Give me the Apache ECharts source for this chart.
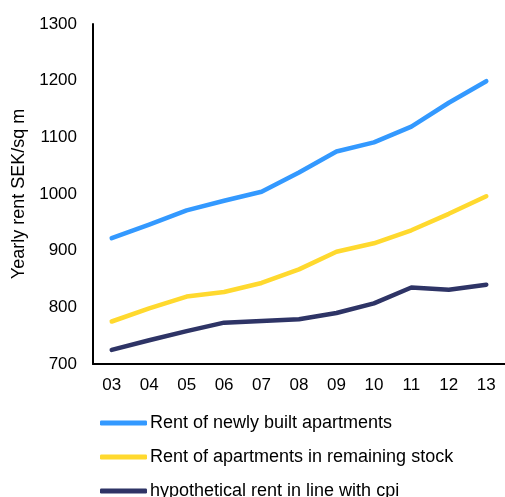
<!DOCTYPE html>
<html>
<head>
<meta charset="utf-8">
<script src="https://cdn.jsdelivr.net/npm/echarts@6/dist/echarts.min.js"></script>
<style>
	html, body { margin: 0; padding: 0; background: #fff; }
	#chart { width: 505px; height: 497px; }
</style>
</head>
<body>
<div id="chart"></div>
<script>
var years = ['03', '04', '05', '06', '07', '08', '09', '10', '11', '12', '13'];
var newlyBuilt = [922, 946, 971, 988, 1004, 1038, 1075, 1091, 1119, 1161, 1199];
var remainingStock = [775, 798, 819, 827, 843, 867, 898, 913, 936, 965, 996];
var cpiRent = [725, 742, 758, 773, 776, 779, 790, 807, 835, 831, 840];
var yTicks = { min: 700, max: 1300, step: 100 };

var font = 'Liberation Sans, Arial, sans-serif';

var chart = echarts.init(document.getElementById('chart'));

function lineSeries(name, data, color) {
	return {
		name: name,
		type: 'line',
		data: data,
		symbol: 'none',
		smooth: false,
		lineStyle: { color: color, width: 4.5, cap: 'round', join: 'round' },
		itemStyle: { color: color }
	};
}

chart.setOption({
	animation: false,
	backgroundColor: '#fff',
	grid: { left: 93, width: 416, top: 24, bottom: 133, containLabel: false },
	legend: {
		orient: 'vertical',
		left: 95,
		top: 409,
		height: 300,
		icon: 'roundRect',
		itemWidth: 47,
		itemHeight: 5,
		itemGap: 16,
		textStyle: { fontFamily: font, fontSize: 18, color: '#000', padding: [0, 0, 0, -2] },
		data: ['Rent of newly built apartments', 'Rent of apartments in remaining stock', 'hypothetical rent in line with cpi']
	},
	xAxis: {
		type: 'category',
		data: years,
		boundaryGap: true,
		axisLine: { lineStyle: { color: '#000', width: 2 } },
		axisTick: { show: false },
		axisLabel: { fontFamily: font, fontSize: 17, color: '#000', margin: 13 }
	},
	yAxis: {
		type: 'value',
		min: yTicks.min,
		max: yTicks.max,
		interval: yTicks.step,
		name: 'Yearly rent SEK/sq m',
		nameLocation: 'middle',
		nameGap: 62,
		nameTextStyle: { fontFamily: font, fontSize: 18, color: '#000' },
		axisLine: { show: true, lineStyle: { color: '#000', width: 2 } },
		axisTick: { show: false },
		splitLine: { show: false },
		axisLabel: {
			fontFamily: font, fontSize: 17, color: '#000', margin: 16,
			formatter: function (v) { return String(v); }
		}
	},
	series: [
		lineSeries('Rent of newly built apartments', newlyBuilt, '#3399FF'),
		lineSeries('Rent of apartments in remaining stock', remainingStock, '#FFD92E'),
		lineSeries('hypothetical rent in line with cpi', cpiRent, '#2E3466')
	]
});
</script>
</body>
</html>
